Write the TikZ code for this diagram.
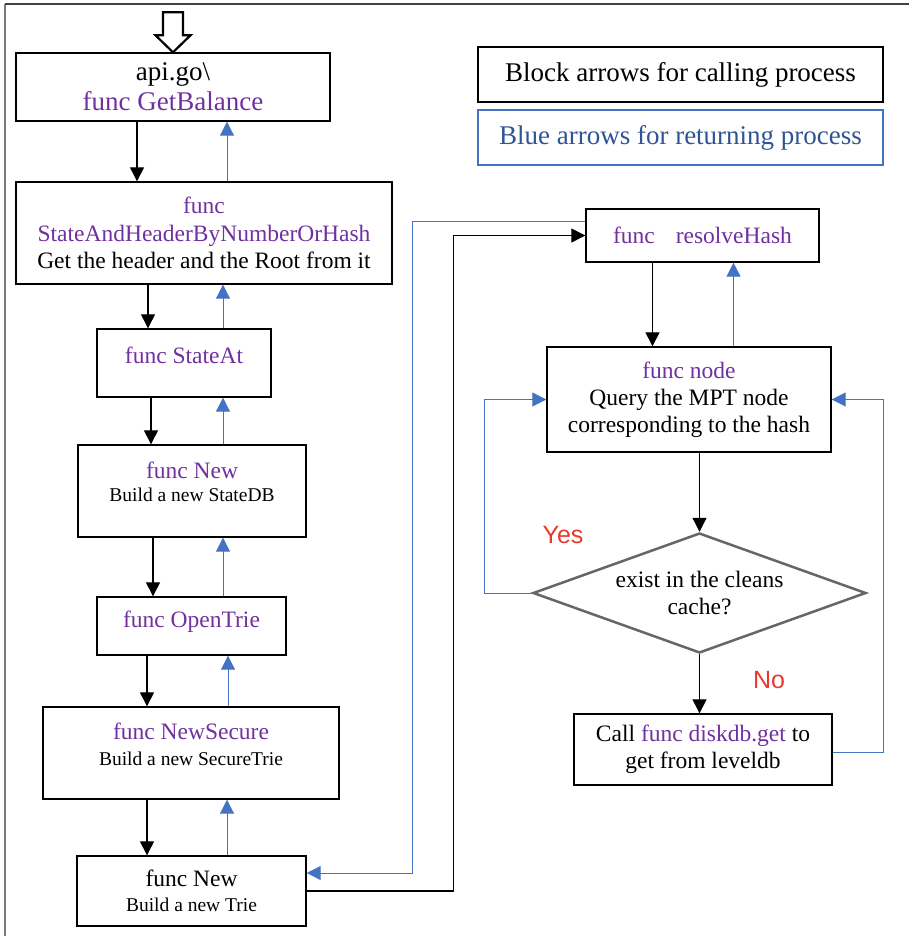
\documentclass[tikz,border=0pt]{standalone}
\usepackage{fontspec}
\setmainfont{Liberation Serif}
\newfontfamily\arialfont{Liberation Sans}
\usetikzlibrary{arrows.meta,shapes.geometric}

\definecolor{fnpurple}{HTML}{7030A0}
\definecolor{retblue}{HTML}{4472C4}
\definecolor{legendblue}{HTML}{2F5496}
\definecolor{answerred}{HTML}{E8392D}
\definecolor{diagray}{HTML}{666666}
\definecolor{framegray}{HTML}{7A7A7A}

\newcommand{\fn}[1]{\textcolor{fnpurple}{#1}}
\newcommand{\subline}[1]{{\fontsize{19.5}{23}\selectfont #1}}

\tikzset{
  box/.style={draw=black, line width=1.4pt, align=center, inner sep=0pt},
  txt/.style={align=center, inner sep=0pt},
  main/.style={font=\fontsize{23.5}{27.5}\selectfont},
  big/.style={font=\fontsize{27}{30}\selectfont},
  call/.style={draw=black, line width=1.3pt, -{Triangle[length=14pt,width=14pt]}},
  ret/.style={draw=retblue, line width=1pt, -{Triangle[length=14pt,width=14pt]}},
  answer/.style={txt, text=answerred, font=\arialfont\fontsize{25}{25}\selectfont},
}

\begin{document}
\begin{tikzpicture}[x=1pt,y=-1pt]
\useasboundingbox (0,0) rectangle (909,936);

% page frame (top and left edges only)
\draw[framegray, line width=1.6pt] (5,936) -- (5,4);
\draw[black!75, line width=1.4pt] (5,4) -- (909,4);

% ---------- left column: call chain ----------
\node[box, big, minimum width=314pt, minimum height=68pt] (b1) at (173,87)
  {api.go\textbackslash\\\fn{func GetBalance}};
\node[box, main, minimum width=376pt, minimum height=102pt] (b2) at (204,233)
  {\fn{func}\\\fn{StateAndHeaderByNumberOrHash}\\Get the header and the Root from it};

\node[box, minimum width=174pt, minimum height=68pt] (b3) at (184,363) {};
\node[txt, main, yshift=8pt] (t3) at (b3) {\fn{func StateAt}};

\node[box, minimum width=228pt, minimum height=92pt] (b4) at (192,491) {};
\node[txt, font=\fontsize{23.5}{23}\selectfont, yshift=9.5pt] (t4) at (b4)
  {\fn{func New}\\\subline{Build a new StateDB}};

\node[box, minimum width=189pt, minimum height=58pt] (b5) at (191.5,626) {};
\node[txt, main, yshift=4pt] (t5) at (b5) {\fn{func OpenTrie}};

\node[box, minimum width=296pt, minimum height=92pt] (b6) at (191,753) {};
\node[txt, font=\fontsize{23.5}{26}\selectfont, yshift=9pt] (t6) at (b6)
  {\fn{func NewSecure}\\\subline{Build a new SecureTrie}};

\node[box, font=\fontsize{23.5}{25}\selectfont, minimum width=229pt, minimum height=70pt] (b7) at (191.5,891)
  {func New\\\subline{Build a new Trie}};

% entry arrow
\draw[line width=2.2pt, fill=white] (b1.north) -- ++(-17.5,-17) -- ++(7.5,0) -- ++(0,-23)
  -- ++(20,0) -- ++(0,23) -- ++(7.5,0) -- cycle;

% calls going down (black) and returns going up (blue)
\draw[call] ([xshift=-36pt]b1.south) -- ([xshift=-36pt]b1.south |- b2.north);
\draw[ret]  ([xshift=54pt]b1.south |- b2.north) -- ([xshift=54pt]b1.south);

\draw[call] ([xshift=-56pt]b2.south) -- ([xshift=-56pt]b2.south |- b3.north);
\draw[ret]  ([xshift=19pt]b2.south |- b3.north) -- ([xshift=19pt]b2.south);

\draw[call] ([xshift=-33pt]b3.south) -- ([xshift=-33pt]b3.south |- b4.north);
\draw[ret]  ([xshift=39pt]b3.south |- b4.north) -- ([xshift=39pt]b3.south);

\draw[call] ([xshift=-39pt]b4.south) -- ([xshift=-39pt]b4.south |- b5.north);
\draw[ret]  ([xshift=31pt]b4.south |- b5.north) -- ([xshift=31pt]b4.south);

\draw[call] ([xshift=-44.5pt]b5.south) -- ([xshift=-44.5pt]b5.south |- b6.north);
\draw[ret]  ([xshift=36.5pt]b5.south |- b6.north) -- ([xshift=36.5pt]b5.south);

\draw[call] ([xshift=-44pt]b6.south) -- ([xshift=-44pt]b6.south |- b7.north);
\draw[ret]  ([xshift=36pt]b6.south |- b7.north) -- ([xshift=36pt]b6.south);

% ---------- legend ----------
\node[box, big, line width=2.5pt, minimum width=405pt, minimum height=55pt] (legcall) at (680.5,74.5)
  {Block arrows for calling process};
\node[box, big, draw=retblue, text=legendblue, line width=2pt, minimum width=405pt, minimum height=55pt]
  (legret) at (680.5,137.5) {Blue arrows for returning process};

% ---------- right column: hash resolution ----------
\node[box, main, minimum width=233pt, minimum height=53pt] (r1) at (702.5,235.5)
  {\fn{func\hspace{21pt}resolveHash}};
\node[box, main, font=\fontsize{23.5}{27}\selectfont, minimum width=284pt, minimum height=105pt] (r2) at (689,399.5)
  {\fn{func node}\\Query the MPT node\\corresponding to the hash};
\node[diamond, draw=diagray, line width=2.5pt, align=center, inner sep=0pt, shape aspect=2.775,
  minimum width=333pt, minimum height=120pt, font=\fontsize{23.5}{27}\selectfont] (dia) at (699.5,593)
  {exist in the cleans\\cache?};
\node[box, font=\fontsize{23.5}{27}\selectfont, minimum width=258pt, minimum height=71pt] (r4) at (703,749.5)
  {Call \fn{func diskdb.get} to\\get from leveldb};

\node[answer] (yes) at (563,535) {Yes};
\node[answer] (no) at (769,680) {No};

\draw[call] ([xshift=-50pt]r1.south) -- ([xshift=-50pt]r1.south |- r2.north);
\draw[ret]  ([xshift=31pt]r1.south |- r2.north) -- ([xshift=31pt]r1.south);
\draw[call] (r2.south -| dia.north) -- (dia.north);
\draw[call] (dia.south) -- (dia.south |- r4.north);

% cache hit loops back to node, disk read loops back too
\draw[ret] (dia.west) -- ++(-47,0) |- (r2.west);
\draw[ret] ([yshift=-2.5pt]r4.east) -- ++(51,0) |- (r2.east);

% bridge between the trie constructor and resolveHash
\draw[call] (b7.east) -- ++(147,0) |- (r1.west);
\draw[ret] ([yshift=14.5pt]r1.west) -- ++(-173,0) |- ([yshift=18pt]b7.east);

\end{tikzpicture}
\end{document}
